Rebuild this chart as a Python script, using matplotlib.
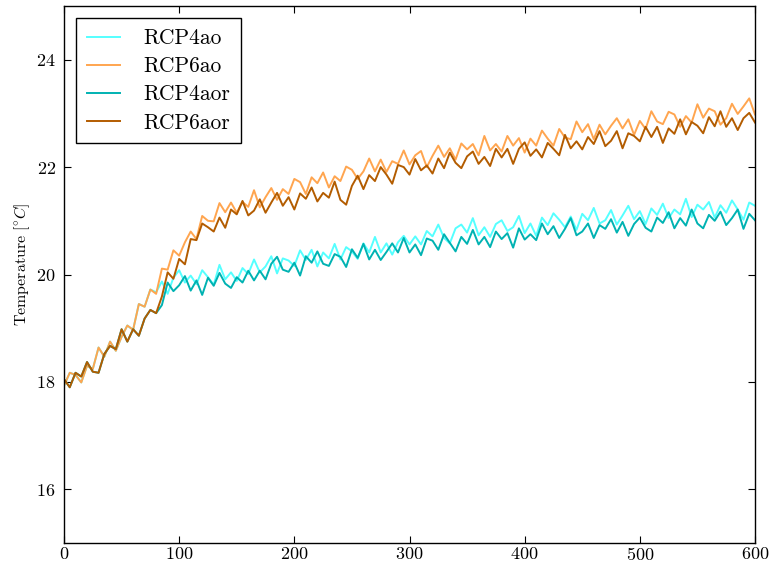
import matplotlib
matplotlib.use("Agg")
import matplotlib.pyplot as plt

plt.rcParams['font.family'] = 'serif'
plt.rcParams['font.serif'] = ['cmr10']
plt.rcParams['mathtext.fontset'] = 'cm'
plt.rcParams['axes.formatter.use_mathtext'] = True

years = list(range(0, 601, 5))

rcp6ao = [17.93, 18.17, 18.13, 17.99, 18.30, 18.24, 18.64, 18.47, 18.75, 18.58,
          18.84, 19.05, 18.97, 19.45, 19.40, 19.72, 19.64, 20.11, 20.09, 20.45,
          20.35, 20.60, 20.80, 20.66, 21.09, 21.00, 20.99, 21.33, 21.16, 21.34,
          21.15, 21.35, 21.26, 21.57, 21.25, 21.44, 21.61, 21.39, 21.59, 21.50,
          21.78, 21.72, 21.50, 21.81, 21.70, 21.90, 21.62, 21.83, 21.74, 22.01,
          21.95, 21.78, 21.92, 22.16, 21.92, 22.14, 21.91, 22.11, 22.06, 22.31,
          22.05, 22.22, 22.30, 22.00, 22.21, 22.40, 22.19, 22.35, 22.14, 22.44,
          22.33, 22.43, 22.22, 22.58, 22.31, 22.43, 22.29, 22.58, 22.40, 22.54,
          22.27, 22.53, 22.40, 22.68, 22.53, 22.40, 22.71, 22.55, 22.52, 22.85,
          22.65, 22.80, 22.52, 22.79, 22.61, 22.77, 22.91, 22.72, 22.89, 22.60,
          22.86, 22.71, 23.04, 22.85, 22.80, 23.03, 22.98, 22.75, 22.95, 22.83,
          23.17, 22.92, 23.09, 23.04, 22.79, 22.91, 23.18, 22.99, 23.13, 23.28,
          22.98]

rcp6aor = [18.05, 17.90, 18.17, 18.10, 18.37, 18.19, 18.17, 18.52, 18.67, 18.61,
           18.98, 18.75, 18.98, 18.86, 19.18, 19.34, 19.28, 19.59, 20.04, 19.92,
           20.29, 20.19, 20.66, 20.64, 20.95, 20.88, 20.80, 21.06, 20.87, 21.21,
           21.12, 21.37, 21.10, 21.19, 21.40, 21.15, 21.34, 21.52, 21.28, 21.44,
           21.21, 21.51, 21.41, 21.62, 21.36, 21.52, 21.43, 21.73, 21.39, 21.30,
           21.65, 21.84, 21.59, 21.85, 21.74, 22.00, 21.86, 21.69, 22.04, 22.00,
           21.86, 22.15, 21.94, 22.03, 21.88, 22.16, 21.98, 22.27, 22.08, 21.98,
           22.20, 22.29, 22.06, 22.19, 22.02, 22.34, 22.18, 22.34, 22.06, 22.34,
           22.46, 22.21, 22.33, 22.18, 22.45, 22.34, 22.22, 22.60, 22.35, 22.48,
           22.33, 22.56, 22.43, 22.67, 22.39, 22.49, 22.67, 22.35, 22.63, 22.58,
           22.48, 22.75, 22.56, 22.75, 22.45, 22.72, 22.62, 22.89, 22.61, 22.84,
           22.77, 22.63, 22.93, 22.76, 23.04, 22.75, 22.91, 22.69, 22.91, 23.01,
           22.83]

rcp4ao = rcp6ao[:16] + [
          19.67, 19.87, 19.64, 19.94,
          20.08, 19.85, 19.98, 19.82, 20.08, 19.95, 19.81, 20.18, 19.91, 20.04,
          19.88, 20.12, 20.01, 20.28, 20.04, 20.15, 20.34, 20.02, 20.30, 20.26,
          20.16, 20.45, 20.27, 20.46, 20.15, 20.41, 20.30, 20.57, 20.28, 20.51,
          20.43, 20.29, 20.58, 20.41, 20.70, 20.41, 20.58, 20.37, 20.60, 20.72,
          20.56, 20.71, 20.56, 20.81, 20.71, 20.93, 20.68, 20.58, 20.86, 20.93,
          20.78, 21.05, 20.73, 20.88, 20.70, 20.94, 21.01, 20.81, 20.88, 21.09,
          20.77, 20.95, 20.72, 21.06, 20.92, 21.14, 21.02, 20.88, 21.08, 20.83,
          21.13, 21.01, 21.24, 20.95, 21.01, 21.20, 20.93, 21.10, 21.28, 21.03,
          21.18, 20.94, 21.23, 21.11, 21.32, 21.05, 21.21, 21.12, 21.41, 21.07,
          21.30, 21.21, 21.35, 21.06, 21.29, 21.15, 21.38, 21.21, 21.02, 21.34,
          21.28]

rcp4aor = rcp6aor[:17] + [
           19.43, 19.85, 19.69,
           19.80, 19.97, 19.70, 19.89, 19.62, 19.94, 19.79, 20.03, 19.83, 19.75,
           19.95, 19.85, 20.07, 19.89, 20.07, 19.91, 20.20, 20.33, 20.09, 20.05,
           20.22, 19.98, 20.34, 20.22, 20.43, 20.20, 20.16, 20.38, 20.33, 20.14,
           20.47, 20.31, 20.57, 20.28, 20.46, 20.27, 20.42, 20.58, 20.41, 20.68,
           20.41, 20.56, 20.36, 20.67, 20.63, 20.46, 20.75, 20.59, 20.43, 20.70,
           20.57, 20.83, 20.56, 20.70, 20.51, 20.80, 20.66, 20.77, 20.50, 20.86,
           20.65, 20.75, 20.64, 20.95, 20.75, 20.90, 20.68, 20.85, 21.05, 20.73,
           20.80, 20.95, 20.68, 20.92, 20.85, 21.03, 20.78, 20.98, 20.72, 20.94,
           21.06, 20.87, 20.80, 21.06, 20.96, 21.16, 20.86, 21.05, 20.91, 21.21,
           20.95, 20.86, 21.11, 21.00, 21.17, 20.92, 21.05, 21.21, 20.85, 21.13,
           21.01]

labels = ['RCP4ao', 'RCP6ao', 'RCP4aor', 'RCP6aor']
colors = ['#55FFFF', '#FFA54F', '#00B2B2', '#B35C00']
series = [rcp4ao, rcp6ao, rcp4aor, rcp6aor]

xticks = [0, 100, 200, 300, 400, 500, 600]
yticks = [16, 18, 20, 22, 24]

fig = plt.figure(figsize=(7.70, 5.64), dpi=100)
ax = fig.add_axes([64/770, 21/564, 691/770, 537/564])

for s, c, l in zip(series, colors, labels):
    ax.plot(years, s, color=c, lw=1.4, label=l)

ax.set_xlim(0, 600)
ax.set_ylim(15, 25)
ax.set_xticks(xticks)
ax.set_yticks(yticks)
ax.tick_params(direction='in', top=True, right=True, length=5, width=0.8,
               labelsize=13)
ax.tick_params(axis='x', pad=2)
ax.tick_params(axis='y', pad=6)
for sp in ax.spines.values():
    sp.set_linewidth(1.0)
ax.set_ylabel(r'Temperature [$^{\circ}C$]', fontsize=11.5)
ax.yaxis.set_label_coords(-0.046, 0.52)

leg = ax.legend(loc='upper left', fontsize=15.5, fancybox=False,
                edgecolor='black', framealpha=1, handlelength=1.55,
                handletextpad=1.1, labelspacing=0.4, borderaxespad=0.55,
                borderpad=0.5)
leg.get_frame().set_linewidth(1.0)

fig.savefig('out.png', dpi=100)
